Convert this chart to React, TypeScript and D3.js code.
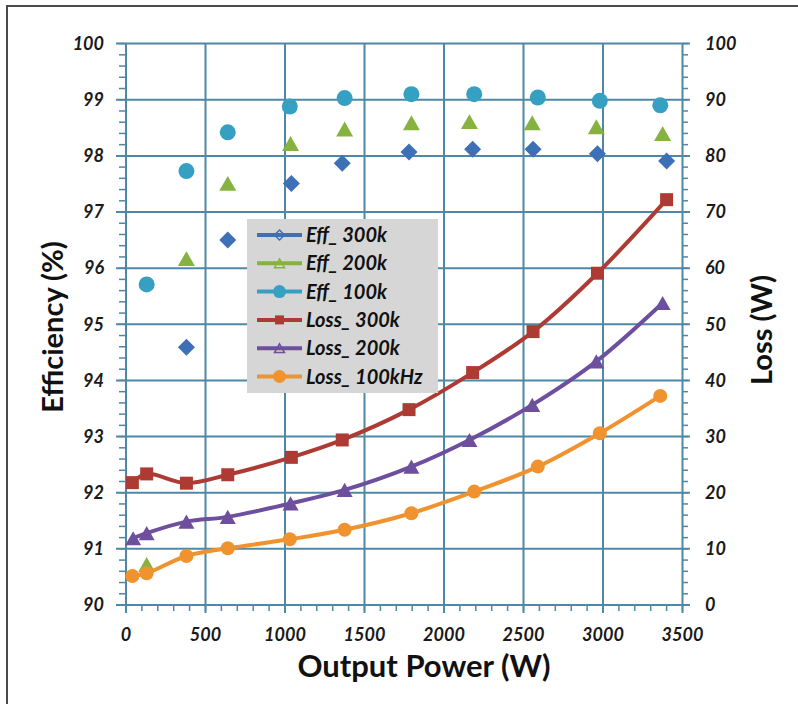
import React, { useEffect, useRef } from 'react';
import * as d3 from 'd3';

// output power (W) per switching frequency
const power300 = [40, 130, 380, 640, 1040, 1360, 1780, 2180, 2560, 2965, 3400];
const power200 = [45, 130, 380, 640, 1035, 1375, 1795, 2160, 2555, 2958, 3375];
const power100 = [40, 130, 380, 640, 1030, 1375, 1795, 2190, 2590, 2980, 3360];

// efficiency (%), left axis
const eff300k = [null, null, 94.59, 96.5, 97.51, 97.87, 98.07, 98.12, 98.12, 98.04, 97.91];
const eff200k = [null, 90.72, 96.17, 97.51, 98.22, 98.48, 98.59, 98.61, 98.59, 98.52, 98.4];
const eff100k = [null, 95.71, 97.73, 98.42, 98.88, 99.03, 99.1, 99.1, 99.04, 98.98, 98.9];

// loss (W), right axis
const loss300k = [21.8, 23.35, 21.7, 23.2, 26.3, 29.4, 34.8, 41.4, 48.7, 59.1, 72.2];
const loss200k = [11.9, 12.8, 14.85, 15.7, 18.1, 20.5, 24.65, 29.4, 35.65, 43.4, 53.8];
const loss100k = [5.17, 5.65, 8.73, 10.1, 11.7, 13.4, 16.35, 20.2, 24.65, 30.6, 37.25];

const powerTicks = [0, 500, 1000, 1500, 2000, 2500, 3000, 3500];
const effTicks = [90, 91, 92, 93, 94, 95, 96, 97, 98, 99, 100];
const lossTicks = [0, 10, 20, 30, 40, 50, 60, 70, 80, 90, 100];

const legendLabels = ['Eff_ 300k', 'Eff_ 200k', 'Eff_ 100k', 'Loss_ 300k', 'Loss_ 200k', 'Loss_ 100kHz'];

const W = 798;
const H = 704;
const FONT = 'Lato, Carlito, "Open Sans", sans-serif';
const GRID = '#4f88a6';

function shapePath(kind: string, s: number): string {
    if (kind === 'diamond') return `M0,${-s}L${s},0L0,${s}L${-s},0Z`;
    if (kind === 'triangle') {
        const h = s * 1.76;
        return `M0,${-h / 2}L${s},${h / 2}L${-s},${h / 2}Z`;
    }
    if (kind === 'square') return `M${-s},${-s}H${s}V${s}H${-s}Z`;
    return `M${-s},0A${s},${s} 0 1,0 ${s},0A${s},${s} 0 1,0 ${-s},0Z`;
}

export default function App() {
    const node = useRef<SVGSVGElement>(null);

    useEffect(() => {
        const svg = d3.select(node.current);
        svg.selectAll('*').remove();

        const x = d3.scaleLinear().domain([0, 3500]).range([126, 682.5]);
        const yEff = d3.scaleLinear().domain([90, 100]).range([605, 43.6]);
        const yLoss = d3.scaleLinear().domain([0, 100]).range([605, 43.6]);

        svg.append('rect').attr('width', W).attr('height', H).attr('fill', '#fff');
        // frame of the figure (top and left edge)
        svg.append('path').attr('d', `M7,${H}V6H${W}`).attr('fill', 'none')
            .attr('stroke', '#4a4a4a').attr('stroke-width', 2);

        const grid = svg.append('g').attr('stroke', GRID).attr('stroke-width', 2);
        // minor ticks
        grid.selectAll('.mx').data(d3.range(0, 3501, 100)).enter().append('line')
            .attr('x1', d => x(d)).attr('x2', d => x(d)).attr('y1', 605).attr('y2', 611)
            .attr('stroke-width', 1.5);
        grid.selectAll('.my').data(d3.range(90, 100.01, 0.2)).enter().append('line')
            .attr('x1', 119).attr('x2', 126).attr('y1', d => yEff(d)).attr('y2', d => yEff(d))
            .attr('stroke-width', 1.5);
        grid.selectAll('.mr').data(d3.range(0, 100.1, 2)).enter().append('line')
            .attr('x1', 682.5).attr('x2', 688).attr('y1', d => yLoss(d)).attr('y2', d => yLoss(d))
            .attr('stroke-width', 1.5);
        // major gridlines, extended out as ticks
        grid.selectAll('.gx').data(powerTicks).enter().append('line')
            .attr('x1', d => x(d)).attr('x2', d => x(d)).attr('y1', 43.6).attr('y2', 613);
        grid.selectAll('.gy').data(effTicks).enter().append('line')
            .attr('x1', 116).attr('x2', 690).attr('y1', d => yEff(d)).attr('y2', d => yEff(d));

        const tickFont = (sel: any) => sel.attr('font-family', FONT).attr('font-size', 18)
            .attr('font-weight', 'bold').attr('font-style', 'italic').attr('fill', '#1a1a1a');

        svg.selectAll('.tl').data(effTicks).enter().append('text')
            .attr('x', 104).attr('y', d => yEff(d)).attr('dy', '0.35em').attr('text-anchor', 'end')
            .text(d => d).call(tickFont);
        svg.selectAll('.tr').data(lossTicks).enter().append('text')
            .attr('x', 705).attr('y', d => yLoss(d)).attr('dy', '0.35em').attr('text-anchor', 'start')
            .text(d => d).call(tickFont);
        svg.selectAll('.tb').data(powerTicks).enter().append('text')
            .attr('x', d => x(d)).attr('y', 641).attr('text-anchor', 'middle')
            .text(d => d).call(tickFont);

        const titleFont = (sel: any) => sel.attr('font-family', FONT).attr('font-weight', 'bold')
            .attr('fill', '#111').attr('text-anchor', 'middle');
        svg.append('text').attr('transform', 'translate(63,327) rotate(-90)')
            .attr('font-size', 29).text('Efficiency (%)').call(titleFont);
        svg.append('text').attr('transform', 'translate(772,330) rotate(-90)')
            .attr('font-size', 29).text('Loss (W)').call(titleFont);
        svg.append('text').attr('x', 424).attr('y', 677)
            .attr('font-size', 31).text('Output Power (W)').call(titleFont);

        const series = [
            { xs: power300, ys: eff300k, y: yEff, color: '#3d70b6', shape: 'diamond', size: 8.5, line: false },
            { xs: power200, ys: eff200k, y: yEff, color: '#86b340', shape: 'triangle', size: 8.5, line: false },
            { xs: power100, ys: eff100k, y: yEff, color: '#36a0c3', shape: 'circle', size: 8, line: false },
            { xs: power300, ys: loss300k, y: yLoss, color: '#ad3b34', shape: 'square', size: 6.5, line: true },
            { xs: power200, ys: loss200k, y: yLoss, color: '#6e4f9e', shape: 'triangle', size: 8, line: true },
            { xs: power100, ys: loss100k, y: yLoss, color: '#f0922e', shape: 'circle', size: 7, line: true },
        ];

        series.forEach(s => {
            const pts = s.xs.map((p, i) => [p, s.ys[i]] as [number, number | null])
                .filter(d => d[1] !== null) as [number, number][];
            if (s.line) {
                const line = d3.line<[number, number]>()
                    .x(d => x(d[0])).y(d => s.y(d[1]))
                    .curve(d3.curveCatmullRom.alpha(0.5));
                svg.append('path').attr('d', line(pts)).attr('fill', 'none')
                    .attr('stroke', s.color).attr('stroke-width', 4);
            }
            svg.selectAll(null).data(pts).enter().append('path')
                .attr('transform', d => `translate(${x(d[0])},${s.y(d[1])})`)
                .attr('d', shapePath(s.shape, s.size)).attr('fill', s.color);
        });

        // legend
        const lg = svg.append('g');
        lg.append('rect').attr('x', 247).attr('y', 219).attr('width', 191).attr('height', 174)
            .attr('fill', '#d6d6d6');
        const legendMarks = [
            { shape: 'diamond', size: 5, fill: false },
            { shape: 'triangle', size: 5, fill: false },
            { shape: 'circle', size: 6.5, fill: true },
            { shape: 'square', size: 4.5, fill: true },
            { shape: 'triangle', size: 5, fill: false },
            { shape: 'circle', size: 6.5, fill: true },
        ];
        legendLabels.forEach((label, i) => {
            const cy = 235 + i * 28.3;
            const c = series[i].color;
            lg.append('line').attr('x1', 257).attr('x2', 302).attr('y1', cy).attr('y2', cy)
                .attr('stroke', c).attr('stroke-width', 4);
            const m = legendMarks[i];
            lg.append('path').attr('transform', `translate(279.5,${cy})`)
                .attr('d', shapePath(m.shape, m.size))
                .attr('fill', m.fill ? c : 'none').attr('stroke', c).attr('stroke-width', m.fill ? 0 : 1.5);
            lg.append('text').attr('x', 306).attr('y', cy).attr('dy', '0.35em')
                .attr('font-family', FONT).attr('font-size', 20).attr('font-weight', 'bold')
                .attr('font-style', 'italic').attr('fill', '#111').text(label);
        });
    }, []);

    return (
        <svg ref={node} width={W} height={H}
            style={{ position: 'absolute', left: 0, top: 0, display: 'block' }} />
    );
}
